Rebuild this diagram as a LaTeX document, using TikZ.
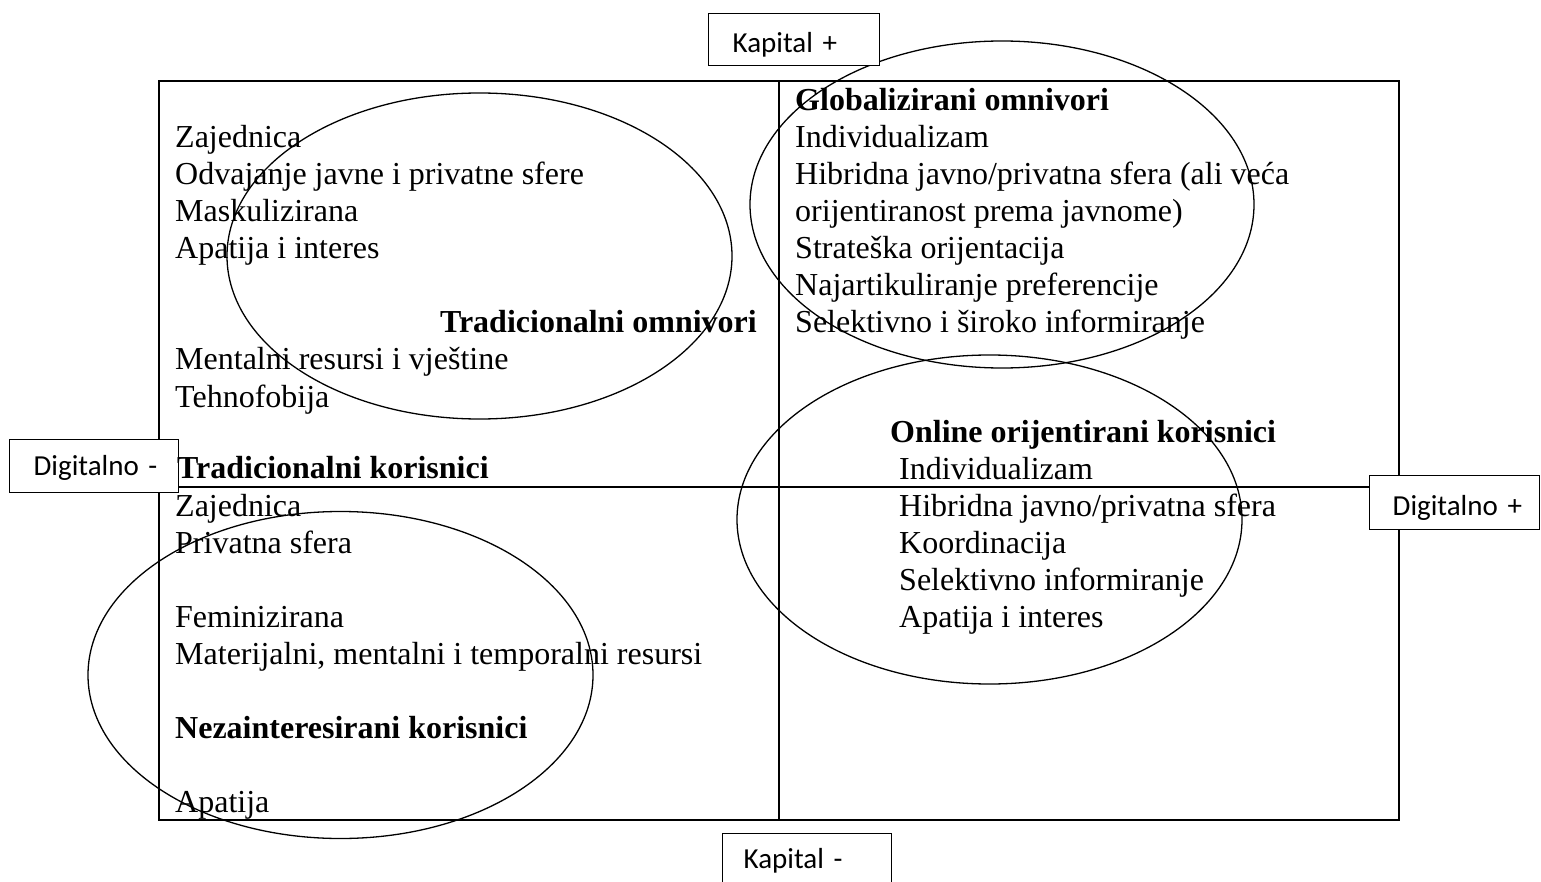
\documentclass[tikz,border=0pt]{standalone}
\usepackage{fontspec}
\setmainfont{Liberation Serif}
\newfontfamily\labfont{Carlito}
\begin{document}
\begin{tikzpicture}[x=1pt,y=-1pt,
  txt/.style={anchor=base west,inner sep=0pt,font=\fontsize{32}{37}\selectfont},
  btxt/.style={txt,font=\fontsize{32}{37}\selectfont\bfseries},
  lab/.style={draw,fill=white,line width=1.3pt,anchor=north west,inner xsep=0pt,inner ysep=0pt,align=left,
    font=\labfont\fontsize{29}{34}\selectfont},
  frame/.style={line width=1.4pt},
  oval/.style={line width=1.3pt}]
\useasboundingbox (0,0) rectangle (1541,882);
% frame and axes
\draw[frame] (159,81) rectangle (1399,820);
\coordinate (vt) at (779,81);
\coordinate (vb) at (779,820);
\coordinate (hl) at (159,487);
\coordinate (hr) at (1399,487);
\draw[frame] (vt) -- (vb);
\draw[frame] (hl) -- (hr);
% ellipses
\draw[oval] (479.5,256) ellipse [x radius=252.5pt, y radius=163pt];
\draw[oval] (1002,204.5) ellipse [x radius=252pt, y radius=163.5pt];
\draw[oval] (989.5,519.5) ellipse [x radius=252.5pt, y radius=164.5pt];
\draw[oval] (340.5,675) ellipse [x radius=252.5pt, y radius=163.5pt];
% axis labels
\node[lab,text width=171pt,text height=39pt,text depth=13pt] (kp) at (708,13) {\hspace*{24pt}Kapital +};
\node[lab,text width=169pt,text height=36pt,text depth=17pt] (dm) at (9,439) {\hspace*{24pt}Digitalno -};
\node[lab,text width=170pt,text height=40pt,text depth=14pt] (dp) at (1369,475) {\hspace*{23pt}Digitalno +};
\node[lab,text width=169pt,text height=35pt,text depth=27pt] (km) at (722,833) {\hspace*{21pt}Kapital -};
% top left
\node[txt] (a1) at (175,148) {Zajednica};
\node[txt] (a2) at (175,185) {Odvajanje javne i privatne sfere};
\node[txt] (a3) at (175,222) {Maskulizirana};
\node[txt] (a4) at (175,259) {Apatija i interes};
\node[btxt,anchor=base east] (a5) at (757,333) {Tradicionalni omnivori};
\node[txt] (a6) at (175,370) {Mentalni resursi i vještine};
\node[txt] (a7) at (175,407) {Tehnofobija};
% bottom left
\node[btxt] (b1) at (177,478) {Tradicionalni korisnici};
\node[txt] (b2) at (175,516) {Zajednica};
\node[txt] (b3) at (175,553) {Privatna sfera};
\node[txt] (b4) at (175,627) {Feminizirana};
\node[txt] (b5) at (175,664) {Materijalni, mentalni i temporalni resursi};
\node[btxt] (b6) at (175,738) {Nezainteresirani korisnici};
\node[txt] (b7) at (175,812) {Apatija};
% top right
\node[btxt] (c1) at (795,111) {Globalizirani omnivori};
\node[txt] (c2) at (795,148) {Individualizam};
\node[txt] (c3) at (795,185) {Hibridna javno/privatna sfera (ali veća};
\node[txt] (c4) at (795,222) {orijentiranost prema javnome)};
\node[txt] (c5) at (795,259) {Strateška orijentacija};
\node[txt] (c6) at (795,296) {Najartikuliranje preferencije};
\node[txt] (c7) at (795,333) {Selektivno i široko informiranje};
% bottom right
\node[btxt] (d1) at (890,442) {Online orijentirani korisnici};
\node[txt] (d2) at (899,479) {Individualizam};
\node[txt] (d3) at (899,516) {Hibridna javno/privatna sfera};
\node[txt] (d4) at (899,553) {Koordinacija};
\node[txt] (d5) at (899,590) {Selektivno informiranje};
\node[txt] (d6) at (899,627) {Apatija i interes};
\end{tikzpicture}
\end{document}
